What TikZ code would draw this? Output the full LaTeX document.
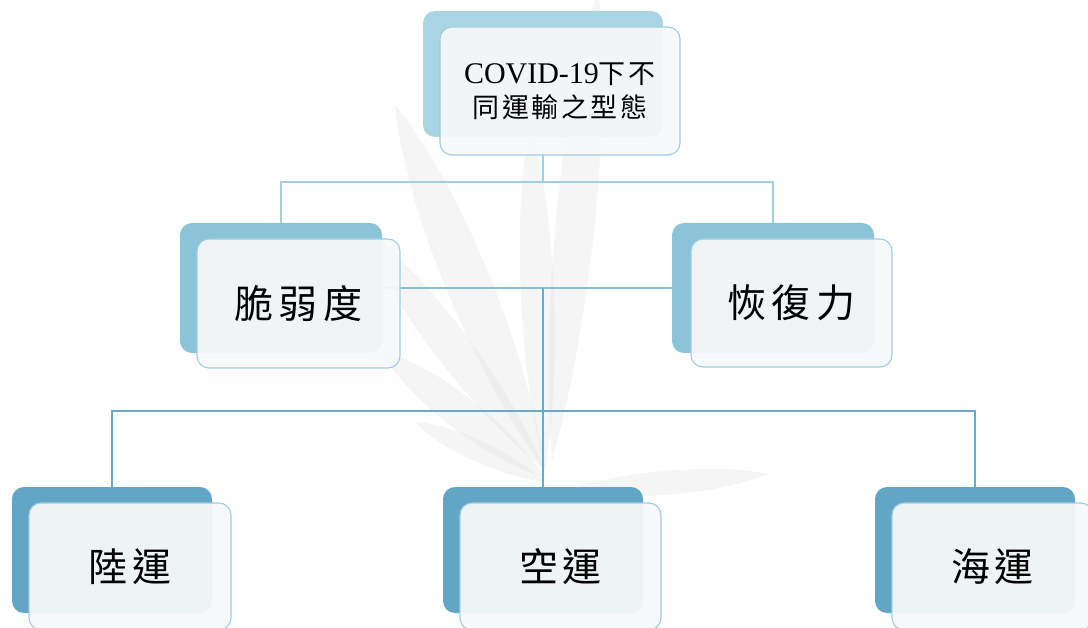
\documentclass[tikz,border=0pt]{standalone}
\usepackage{fontspec}
\setmainfont{Liberation Serif}
\newfontfamily\cjk{Noto Sans CJK TC}
\usetikzlibrary{calc}
\definecolor{backA}{HTML}{A9D5E3}
\definecolor{backB}{HTML}{8BC3D9}
\definecolor{backC}{HTML}{63A5C4}
\definecolor{frontfill}{HTML}{F7F8F9}
\definecolor{frontline}{HTML}{9FCDE0}
\definecolor{lineA}{HTML}{A0D0E2}
\definecolor{lineB}{HTML}{84BFD6}
\definecolor{lineC}{HTML}{6AAAC8}
\definecolor{leafc}{HTML}{DEDEDE}
\tikzset{
  backbox/.style={rectangle, rounded corners=12pt, inner sep=0pt, minimum width=#1, minimum height=128pt},
  frontbox/.style={rectangle, rounded corners=12pt, inner sep=0pt, draw=frontline, line width=1.1pt,
     fill=frontfill, fill opacity=0.94, text opacity=1, minimum width=#1, minimum height=128pt, align=center},
  connA/.style={draw=lineA, line width=1.9pt},
  connB/.style={draw=lineB, line width=1.9pt},
  connC/.style={draw=lineC, line width=1.9pt},
  bigtxt/.style={font=\cjk\fontsize{39}{46}\selectfont},
  toptxt/.style={font=\fontsize{27}{34}\selectfont}
}
\begin{document}
\begin{tikzpicture}[x=1pt,y=-1pt]
\clip (0,0) rectangle (1088,628);
\fill[white] (0,0) rectangle (1088,628);
% watermark leaves
\foreach \bx/\by/\tx/\ty/\w in {
  545/470/395/105/30, 545/470/530/125/22, 552/460/598/-10/26,
  545/470/360/225/24, 545/478/380/350/22, 545/482/415/422/14,
  560/492/768/474/16}{
  \fill[leafc, fill opacity=0.3] (\bx,\by)
    .. controls ($(\bx,\by)!.3!(\tx,\ty)!\w pt!90:(\tx,\ty)$) and ($(\bx,\by)!.75!(\tx,\ty)!\w pt!90:(\tx,\ty)$) .. (\tx,\ty)
    .. controls ($(\bx,\by)!.75!(\tx,\ty)!\w pt!-90:(\tx,\ty)$) and ($(\bx,\by)!.3!(\tx,\ty)!\w pt!-90:(\tx,\ty)$) .. (\bx,\by);
}
% back boxes
\node[backbox=240pt, fill=backA, minimum height=126pt] (topb) at (543,74) {};
\node[backbox=202pt, fill=backB, minimum height=130pt] (lb) at (281,288) {};
\node[backbox=202pt, fill=backB, minimum height=130pt] (rb) at (773,288) {};
\node[backbox=200pt, fill=backC, minimum height=126pt] (b1) at (112,550) {};
\node[backbox=200pt, fill=backC, minimum height=126pt] (b2) at (543,550) {};
\node[backbox=200pt, fill=backC, minimum height=126pt] (b3) at (975,550) {};
% junctions
\coordinate (j1) at (543,182);
\coordinate (j2) at (543,288);
\coordinate (j3) at (543,411);
% connectors
\draw[connA] (j1) -- (topb.south |- 0,150);
\draw[connA] (lb.north) |- (j1) -| (rb.north);
\draw[connB] (lb.east) -- (rb.west);
\draw[connC] (j2) -- (j3);
\draw[connC] (b1.north) |- (j3) -| (b3.north);
\draw[connC] (j3) -- (b2.north);
% front boxes
\node[frontbox=240pt, toptxt] (topf) at (560,91)
  {{\fontsize{30}{34}\selectfont COVID-19}{\cjk 下\kern3pt 不}\\
   {\cjk 同\kern2.5pt 運\kern2.5pt 輸\kern2.5pt 之\kern2.5pt 型\kern2.5pt 態}};
\node[frontbox=203pt, minimum height=129pt, bigtxt] (lf) at (298.5,303.5) {脆\kern6pt 弱\kern6pt 度};
\node[frontbox=201pt, bigtxt] (rf) at (791.5,303) {恢\kern6pt 復\kern6pt 力};
\node[frontbox=202pt, minimum height=127pt, bigtxt] (f1) at (130,566.5) {陸\kern5pt 運};
\node[frontbox=201pt, minimum height=127pt, bigtxt] (f2) at (560.5,566.5) {空\kern5pt 運};
\node[frontbox=201pt, minimum height=127pt, bigtxt] (f3) at (992.5,566.5) {海\kern5pt 運};
\end{tikzpicture}
\end{document}
